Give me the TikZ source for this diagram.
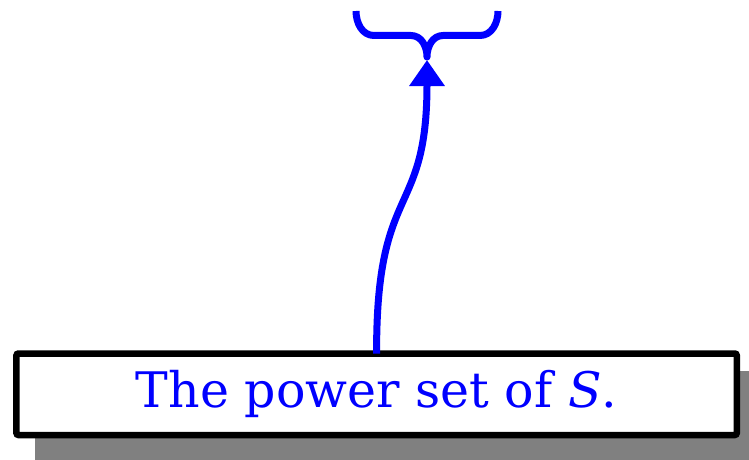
\documentclass[tikz,border=0pt]{standalone}
\usepackage{fontspec}
\setmainfont{DejaVu Serif}
\usetikzlibrary{arrows.meta}
\definecolor{pureblue}{RGB}{0,0,255}
\definecolor{shadowgray}{RGB}{128,128,128}
\tikzset{
  labelbox/.style={draw=black, line width=6.5pt, rounded corners=2pt, fill=white,
    minimum width=720.3pt, minimum height=81.5pt, inner sep=0pt, outer sep=0pt,
    text=pureblue, font=\fontsize{49pt}{55pt}\selectfont},
  bluestroke/.style={draw=pureblue, line width=7pt},
  arrowline/.style={bluestroke, -{Triangle[length=26pt,width=34pt]}},
}
\begin{document}
\begin{tikzpicture}[x=1pt,y=-1pt]
\useasboundingbox (0,0) rectangle (749,460);
\clip (0,0) rectangle (749,460);
% shadow
\fill[shadowgray] (34.5,371) rectangle (762,462);
% box
\node[labelbox] (box) at (376.6,394.25) {\raisebox{-2pt}{The power set of \textit{S}.}};
% brace
\draw[bluestroke, line cap=butt, line join=round]
  (356,11) to[out=-90,in=180] (374,35.5) -- (411,35.5) to[out=0,in=90] (427,57)
  to[out=90,in=180] (443,35.5) -- (480,35.5) to[out=0,in=-90] (498,11);
% arrow
\coordinate (tip) at (427,60);
\draw[arrowline] (box.north) .. controls (376,180) and (427,220) .. (tip);
\end{tikzpicture}
\end{document}
